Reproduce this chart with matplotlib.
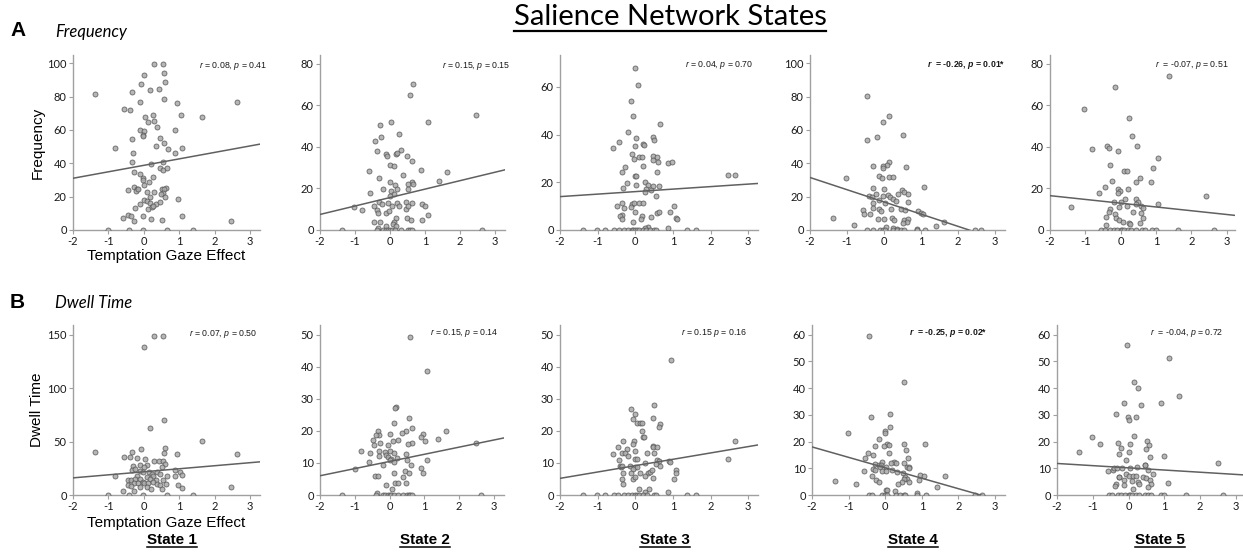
import matplotlib
matplotlib.use("Agg")
import matplotlib.pyplot as plt
from matplotlib.lines import Line2D

plt.rcParams['axes.unicode_minus'] = False
plt.rcParams['mathtext.fontset'] = 'custom'
plt.rcParams['mathtext.rm'] = 'Liberation Sans'
plt.rcParams['mathtext.it'] = 'Liberation Sans:italic'
plt.rcParams['mathtext.bf'] = 'Liberation Sans:bold'
try:
    plt.rcParams['mathtext.bfit'] = 'Liberation Sans:bold:italic'
except Exception:
    pass

# ---------------- data (x = Temptation Gaze Effect, y = measure) ----------------
states = ["State 1", "State 2", "State 3", "State 4", "State 5"]
row_titles = ["Frequency", "Dwell Time"]
row_letters = ["A", "B"]
main_title = "Salience Network States"

a1_pts = [(-1.37,81.6),(0.30,99.8),(0.54,99.8),(0.58,94.4),(0.01,93),(0.60,89),(-0.07,87.6),(0.18,83.8),
          (-0.34,83),(0.44,84.4),(0.58,78.8),(-0.12,76.8),(0.93,76),(2.64,76.8),(-0.55,72.8),(-0.40,72),
          (0.03,68),(0.27,68.8),(1.05,68.8),(1.63,68),(0.30,65.2),(0.12,64.6),(0.36,62),(-0.10,59.8),
          (0.01,59.6),(0.89,60),(-0.01,57),(-0.03,56.4),(-0.33,54.6),(0.46,55.4),(0.56,52.4),(0.35,50.4),
          (-0.81,49),(0.67,48.4),(1.08,49),(0.89,46.4),(-0.32,46.4),(-0.34,41),(0.20,39.6),(0.53,40.8),
          (-0.29,35),(0.46,37),(0.54,36),(0.65,37.4),(-0.10,33.6),(-0.03,31),(-0.01,30),(0.25,32),
          (0.14,28.8),(-0.29,26),(0.01,27),(-0.19,24.4),(-0.46,24),(-0.21,23.4),(-0.17,24.4),(0.09,22.6),
          (0.28,22.6),(0.51,24.6),(0.62,25.4),(0.58,24.6),(0.54,22.4),(0.18,20),(0.49,21.4),(0.60,19.6),
          (0.97,18.6),(0.01,18),(0.09,17.2),(-0.10,15.6),(0.16,16),(0.33,15.8),(0.46,16.6),(-0.25,13.4),
          (0.13,12.4),(0.22,13.8),(0.26,14.6),(-0.44,9.2),(-0.36,8.4),(-0.59,7.2),(-0.01,8.4),(1.08,8.6),
          (-0.27,5.4),(0.20,6.6),(0.50,5.8),(2.47,5.2),
          (-1.01,0),(-0.43,0),(-0.01,0),(0.65,0),(1.40,0)]

a2_pts = [(0.65,70.2),(0.58,64.8),(2.46,55.4),(0.02,52.2),(1.09,52.2),(-0.29,50.6),(0.27,46.1),(-0.27,44.6),
          (-0.43,42.6),(-0.36,37.9),(0.33,38.6),(0.17,36.6),(0.19,37),(-0.11,36.5),(-0.08,35.7),(0.48,35.7),
          (0.62,33.3),(0.01,31.2),(0.13,30.6),(0.37,26.4),(-0.59,28.2),(0.88,29),(1.62,27.8),(-0.30,25.1),
          (1.39,23.7),(0.63,22.9),(0.51,22.2),(0.65,22.2),(0.0,22.9),(0.15,21.6),(-0.19,19.7),(0.04,18.7),
          (0.20,19.7),(0.51,19.7),(-0.57,17.8),(0.12,17.3),(0.0,16.2),(-0.46,11.7),(-0.30,13.3),(-0.22,12.6),
          (-0.05,13),(0.19,13),(0.45,13.3),(0.62,13),(0.93,12.6),(1.00,11.7),(-0.36,9.8),(-0.33,8.2),
          (-0.10,8.2),(-0.03,9),(0.05,11.7),(0.27,11.4),(0.46,10.2),(0.52,11.4),(-0.81,9.4),(-1.03,11),
          (1.09,7.2),(0.17,5.6),(0.48,5.6),(0.59,4.6),(0.92,4.6),(-0.45,3.8),(-0.29,3.8),(0.12,4),
          (0.10,2.9),(-0.11,2.1),(0.17,1.8),(-0.33,1),
          (-1.38,0),(-0.38,0),(-0.19,0),(-0.10,0),(-0.05,0),(0.0,0),(0.05,0),(0.15,0),(0.33,0),
          (0.52,0),(0.57,0),(0.62,0),(2.64,0)]

a3_pts = [(-0.01,68.1),(0.06,60.7),(-0.12,54),(-0.05,48),(0.65,44.6),(-0.19,41.3),(-0.43,37.1),(0.21,36.2),
          (0.23,35.7),(0.01,38.5),(0.48,39.2),(0.51,37.9),(-0.59,34.5),(0.0,35.1),(-0.09,31.7),(-0.03,29.7),
          (0.09,30.6),(0.18,30.6),(0.48,30.9),(0.58,30.6),(0.61,28.4),(0.88,28.1),(0.97,28.5),(0.46,29.2),
          (0.21,27),(-0.27,26.4),(-0.35,24.2),(0.59,24.2),(0.0,22.5),(0.02,22.5),(2.47,22.9),(2.65,22.9),
          (-0.23,19.7),(0.01,18.9),(0.26,20.3),(0.35,18.9),(0.48,18.3),(0.64,18.3),(-0.32,17.8),(0.28,17.2),
          (0.27,15.8),(0.43,16.6),(0.55,14.1),(-0.48,10.2),(-0.34,11.3),(-0.30,9.4),(-0.10,10.8),(-0.12,9.7),
          (-0.04,11.3),(0.11,11.3),(0.21,11.3),(1.03,10.2),(-0.36,6.3),(-0.41,5.7),(-0.34,4.6),(0.0,7.4),
          (0.19,6),(0.14,4.6),(0.43,5.5),(0.57,7.1),(0.64,7.4),(0.92,7.4),(1.08,5),(1.10,4.6),
          (-0.07,3.2),(0.33,1.3),(0.27,1),(0.88,0.8),
          (-1.38,0),(-1.03,0),(-0.81,0),(-0.56,0),(-0.43,0),(-0.30,0),(-0.19,0),(-0.10,0),(-0.05,0),
          (0.0,0),(0.05,0),(0.10,0),(0.20,0),(0.28,0),(0.40,0),(0.50,0),(0.56,0),(1.38,0),(1.62,0)]

a4_pts = [(-0.45,80.2),(0.13,68.2),(-0.02,64.8),(-0.20,56),(-0.47,54.2),(0.52,56.8),(0.13,40.6),(0.07,39),
          (-0.02,38.2),(-0.04,37),(0.59,38),(-0.29,38.6),(-0.14,32.2),(-0.06,31.2),(0.14,32),(0.23,32),
          (-1.03,31.2),(1.08,25.8),(-0.29,25.2),(0.0,24.6),(0.48,24.2),(0.54,22.6),(-0.22,21.6),(-0.41,20.2),
          (-0.33,19.6),(-0.02,20.6),(0.12,21.2),(0.16,19.6),(0.25,18.8),(0.32,17.4),(0.37,21.8),(0.66,21.8),
          (0.65,16.8),(-0.13,17.8),(-0.31,16.2),(0.03,16.2),(-0.56,12.2),(-0.54,9.6),(-0.29,13.2),(-0.13,12.8),
          (-0.08,11.6),(0.18,12.8),(0.45,12.8),(0.58,12.2),(0.92,11.2),(0.99,10.2),(1.05,9.6),(-0.38,9.4),
          (-0.15,6.8),(0.01,6.8),(0.21,7.2),(0.27,6.2),(0.54,6.2),(0.66,6.8),(0.61,4.8),(0.50,4.2),
          (1.62,4.6),(-1.37,7.4),(-0.80,2.8),(1.41,2.2),(0.05,1.6),(0.23,1.2),(0.34,0.8),(0.88,0.8),
          (-0.45,0),(-0.29,0),(-0.11,0),(-0.02,0),(0.04,0),(0.25,0),(0.35,0),(0.45,0),(0.55,0),
          (0.88,0),(1.10,0),(2.46,0),(2.63,0)]

a5_pts = [(1.37,74.2),(-0.16,68.9),(-1.03,58),(0.24,54),(0.32,45.4),(0.47,40.5),(-0.38,40.5),(-0.32,39.3),
          (-0.81,38.8),(-0.08,38.1),(1.06,34.6),(-0.30,31.3),(0.93,30),(0.11,28.5),(0.19,28.5),(0.55,25.2),
          (-0.23,23.7),(0.45,23.1),(0.85,23.1),(-0.44,20.5),(-0.06,19.6),(0.20,19.6),(-0.02,18.8),(-0.08,17.6),
          (-0.60,17.6),(2.43,16.5),(0.12,14.9),(0.45,14.9),(0.50,13.6),(-0.18,13.6),(0.02,13.3),(1.06,12.3),
          (0.45,12.5),(0.57,11.7),(0.62,10.7),(-1.40,11.1),(-0.30,10.1),(-0.05,11.2),(0.19,11.7),(0.36,8.8),
          (0.59,8.3),(0.64,5.6),(-0.33,8.5),(-0.42,6.4),(-0.17,7.5),(-0.14,5.6),(-0.04,4.8),(0.06,4),
          (0.24,3.5),(0.26,2.7),(0.55,3.2),(-0.42,2.2),
          (-0.55,0),(-0.45,0),(-0.30,0),(-0.20,0),(-0.10,0),(0.0,0),(0.05,0),(0.10,0),(0.20,0),(0.30,0),
          (0.45,0),(0.60,0),(0.68,0),(0.90,0),(1.00,0),(1.62,0),(2.64,0)]

b1_pts = [(0.30,149),(0.54,149),(0.01,138.4),(0.58,70.3),(0.18,62.2),(1.63,50.6),(-1.37,40.6),(2.64,38.4),
          (0.93,38.1),(0.60,44),(0.58,39),(-0.07,43.1),(-0.34,40.6),(-0.55,35.9),(-0.40,35.9),(-0.19,34.4),
          (0.03,33.8),(0.30,32.2),(0.44,31.6),(0.54,32.2),(0.60,29),(-0.10,28.1),(-0.32,27.2),(0.08,28.1),
          (0.01,26.6),(0.51,26.6),(0.89,23.4),(-0.34,23.4),(-0.24,24.1),(-0.10,22.8),(-0.01,21.9),(0.14,21.9),
          (0.37,21.9),(1.03,21.3),(1.08,18.8),(-0.81,18.1),(0.23,19.7),(0.27,17.8),(0.46,19.7),(0.65,18.1),
          (0.89,18.1),(-0.19,17.8),(0.09,17.2),(-0.44,14.1),(-0.35,14.1),(-0.25,15.3),(-0.10,14.7),(0.16,14.7),
          (0.33,14.1),(0.54,14.1),(-0.27,10.9),(-0.17,11.6),(-0.03,12.5),(0.01,10.9),(0.12,10.9),(0.27,12.2),
          (0.37,10.3),(0.46,9.4),(0.62,10),(-0.46,9.1),(-0.36,8.4),(-0.10,7.2),(0.09,7.2),(0.20,5.9),
          (0.50,5.9),(0.97,9.4),(1.08,6.3),(-0.59,3.8),(-0.27,3.8),(2.47,7.8),
          (-1.01,0),(-0.43,0),(-0.01,0),(0.65,0),(1.40,0)]

b2_pts = [(0.60,49.2),(1.09,38.6),(0.19,27.3),(0.17,27),(0.57,24),(0.13,22.6),(0.65,20.8),(1.62,20),
          (-0.32,20),(0.48,20),(0.35,19.2),(0.0,19),(0.97,19),(-0.29,18.7),(-0.38,18.7),(0.91,18.2),
          (-0.48,17.2),(0.10,16.9),(0.24,17.2),(1.39,17.5),(1.03,16.9),(-0.27,16.3),(0.65,16.3),(2.48,16.3),
          (0.52,15.9),(-0.05,15.5),(-0.46,15.7),(-0.82,13.8),(-0.30,13.8),(0.0,13.8),(-0.13,13.4),(-0.10,12.6),
          (0.14,13),(-0.57,13),(-0.30,12.3),(0.48,12.8),(-0.05,12),(0.05,11.3),(0.21,11.4),(0.0,10.9),
          (0.51,10.9),(1.09,10.9),(-0.59,10.4),(0.14,10.2),(-0.19,9.5),(0.61,9.3),(0.90,8.5),(-1.00,8),
          (0.44,7.6),(0.55,7),(0.95,7),(0.14,7),(-0.43,5.9),(-0.33,5.9),(0.38,5.5),(0.17,3.8),
          (0.25,3.8),(0.48,3.8),(-0.11,3),(0.08,2),(-0.36,0.7),
          (-1.38,0),(-0.38,0),(-0.20,0),(-0.12,0),(-0.05,0),(0.0,0),(0.05,0),(0.14,0),(0.24,0),
          (0.38,0),(0.50,0),(0.55,0),(0.60,0),(0.65,0),(2.64,0)]

b3_pts = [(0.96,42.1),(0.50,28.1),(-0.12,26.7),(-0.01,25.3),(0.46,24),(-0.05,23.7),(0.05,22.6),(0.12,22.6),
          (0.18,22.6),(0.65,22.1),(0.62,21.1),(0.19,20.1),(0.21,18),(0.23,18.2),(-0.32,16.9),(-0.03,16.9),
          (2.65,16.9),(-0.07,15.9),(-0.47,15.1),(0.46,15.4),(0.48,14.9),(0.58,15.1),(-0.23,14.4),(-0.01,13.8),
          (-0.58,12.8),(-0.34,13),(-0.27,13.2),(-0.19,12.2),(0.30,13),(0.51,13),(2.47,11.3),(-0.44,10.9),
          (-0.01,11.3),(0.04,11.1),(0.58,10.9),(0.64,10.7),(0.90,10.6),(0.92,10.2),(-0.41,9),(-0.37,8.8),
          (-0.34,9),(-0.14,9),(-0.01,8.8),(0.05,8.8),(0.26,9.9),(0.55,9.6),(0.65,9),(-0.07,8.1),
          (-0.32,7),(-0.12,7),(0.12,7),(0.34,6.8),(0.39,7.2),(0.44,7.8),(1.08,7.8),(1.08,7),
          (0.26,5.9),(0.48,5.3),(-0.05,5),(-0.01,5.5),(1.03,5),(-0.36,4.9),(-0.32,3.4),(0.37,2),
          (0.11,2),(0.25,1),(0.87,0.9),
          (-1.38,0),(-1.03,0),(-0.81,0),(-0.56,0),(-0.45,0),(-0.30,0),(-0.20,0),(-0.10,0),(0.0,0),
          (0.05,0),(0.10,0),(0.20,0),(0.30,0),(0.50,0),(0.55,0),(1.38,0),(1.62,0)]

b4_pts = [(-0.45,59.5),(0.52,42.1),(0.13,30.2),(-0.39,29.1),(0.14,25.3),(-0.02,23.8),(0.0,23.1),(-1.02,23.1),
          (-0.18,20.8),(0.05,19.2),(0.10,18.7),(-0.28,18.5),(-0.03,18.5),(0.51,19.1),(1.08,19.1),(0.57,16.8),
          (0.10,15.6),(-0.46,15.8),(-0.33,15),(0.62,13.8),(-0.55,13.8),(0.50,11.8),(0.25,12.3),(0.30,11.8),
          (0.17,11.8),(-0.10,12.2),(-0.27,11.6),(-0.18,11.1),(-0.12,11.1),(0.02,10.6),(-0.14,10.3),(0.59,10.6),
          (0.65,10.6),(0.66,10),(-0.34,9.9),(-0.27,9.2),(-0.08,8.9),(0.01,9.1),(0.18,9.4),(0.32,8.6),
          (0.48,8.4),(-0.59,9),(0.94,7.4),(1.05,7.2),(1.62,7.1),(0.55,6.9),(0.59,6.1),(0.52,5.9),
          (0.65,5),(0.46,5),(0.92,5.6),(-0.36,7.1),(-0.25,5.6),(-0.16,4.9),(0.35,4),(-1.36,5.4),
          (-0.80,4),(1.41,2.9),(0.26,1.6),(0.01,1.9),(0.06,1.9),(0.88,0.7),
          (-0.45,0),(-0.36,0),(-0.10,0),(0.0,0),(0.05,0),(0.30,0),(0.40,0),(0.50,0),(0.55,0),
          (0.88,0),(1.10,0),(2.46,0),(2.63,0)]

b5_pts = [(-0.04,56.3),(1.12,51.4),(0.15,42.3),(0.26,40.2),(1.42,36.9),(-0.13,34.3),(0.91,34.3),(0.35,33.7),
          (-0.36,30.2),(0.22,29.1),(-0.02,29.1),(0.01,28.1),(0.14,22.2),(-1.02,21.7),(-0.81,19.2),(0.52,20.2),
          (0.57,18.6),(-0.30,19.4),(0.03,19.2),(-0.22,17.6),(0.50,17.1),(-1.38,16.1),(0.0,16.1),(-0.27,15.5),
          (0.98,14.7),(0.60,14.2),(-0.06,13.2),(2.51,12.1),(0.47,11.4),(0.47,11.1),(0.23,10.5),(-0.58,8.8),
          (-0.43,9.5),(-0.40,10.1),(-0.32,10.1),(-0.19,10.1),(0.03,10.1),(0.55,9.5),(0.68,8),(-0.06,8),
          (0.01,7.2),(0.13,7.2),(0.20,7.2),(-0.28,6.8),(-0.26,6.6),(0.41,6.8),(0.48,6.2),(0.59,5.6),
          (-0.13,5.6),(0.09,5.1),(0.26,4.8),(0.29,4.3),(0.62,4.1),(1.09,4.6),(-0.34,4.1),(-0.38,3.5),
          (-0.12,3.7),(0.54,3.1),(0.13,2.1),
          (-0.55,0),(-0.45,0),(-0.30,0),(-0.20,0),(-0.10,0),(0.0,0),(0.05,0),(0.10,0),(0.20,0),(0.30,0),
          (0.45,0),(0.55,0),(0.62,0),(0.90,0),(1.00,0),(1.62,0),(2.64,0)]

# fitted regression lines: intercept, slope
fit_intercepts_a = [38.8, 15.6, 16.1, 16.85, 12.9]
fit_slopes_a = [3.88, 4.06, 1.05, -7.33, -1.81]
fit_intercepts_b = [21.7, 10.46, 9.15, 10.17, 10.16]
fit_slopes_b = [2.84, 2.23, 1.98, -3.91, -0.82]

stats_a = [("0.08", "0.41", False), ("0.15", "0.15", False), ("0.04", "0.70", False),
           ("-0.26", "0.01*", True), ("-0.07", "0.51", False)]
stats_b = [("0.07", "0.50", False), ("0.15", "0.14", False), ("0.15", "0.16", False),
           ("-0.25", "0.02*", True), ("-0.04", "0.72", False)]

yticks_a = [[0, 20, 40, 60, 80, 100], [0, 20, 40, 60, 80], [0, 20, 40, 60], [0, 20, 40, 60, 80, 100], [0, 20, 40, 60, 80]]
yticks_b = [[0, 50, 100, 150], [0, 10, 20, 30, 40, 50], [0, 10, 20, 30, 40, 50], [0, 10, 20, 30, 40, 50, 60], [0, 10, 20, 30, 40, 50, 60]]
xticks = [-2, -1, 0, 1, 2, 3]

# ---------------- layout (pixels) ----------------
W, H = 1243, 555
fig = plt.figure(figsize=(W / 100, H / 100), dpi=100)
def fx(p): return p / W
def fy(p): return 1 - p / H

boxes_a = [(73, 260), (320, 505), (560, 758), (810, 1005), (1050, 1235)]
boxes_b = [(73, 260), (320, 504), (560, 758), (812, 1005), (1057, 1243)]
ylims_a = [105, 84.2, 73.4, 105, 84.2]
ylims_b = [159, 53, 53, 63.6, 63.6]
xr_a = [3.28, 3.29, 3.26, 3.27, 3.24]
xr_b = [3.28, 3.29, 3.26, 3.27, 3.2]
row_tb = [(55, 230), (325, 495)]
stat_pos_a = [(267, 66), (510, 66), (753, 65), (1005, 65), (1229, 65)]
stat_pos_b = [(257, 334), (498, 333), (747, 333), (987, 333), (1223, 333)]
state_cx = [172, 425, 665, 913, 1160]

tick_font = 'Lato'
spine_col = '#a0a0a0'

rows = [
    ([a1_pts, a2_pts, a3_pts, a4_pts, a5_pts], boxes_a, ylims_a, xr_a, yticks_a,
     fit_intercepts_a, fit_slopes_a, stats_a, stat_pos_a),
    ([b1_pts, b2_pts, b3_pts, b4_pts, b5_pts], boxes_b, ylims_b, xr_b, yticks_b,
     fit_intercepts_b, fit_slopes_b, stats_b, stat_pos_b),
]

for r, (pts_list, boxes, ylims, xrs, yt, b0s, b1s, stats, spos) in enumerate(rows):
    top, bot = row_tb[r]
    for i in range(5):
        l, rr = boxes[i]
        ax = fig.add_axes([fx(l), fy(bot), (rr - l) / W, (bot - top) / H])
        xs = [p[0] for p in pts_list[i]]
        ys = [p[1] for p in pts_list[i]]
        ax.scatter(xs, ys, s=13, facecolor='#aaaaaa', edgecolor='#555555', linewidths=0.6,
                   alpha=0.85, zorder=3)
        x0, x1 = -2, xrs[i]
        ax.plot([x0, x1], [b0s[i] + b1s[i] * x0, b0s[i] + b1s[i] * x1], color='#606060', lw=1.1, zorder=4)
        ax.set_xlim(x0, x1)
        ax.set_ylim(0, ylims[i])
        ax.set_xticks(xticks)
        ax.set_yticks(yt[i])
        for s in ['top', 'right']:
            ax.spines[s].set_visible(False)
        for s in ['left', 'bottom']:
            ax.spines[s].set_color(spine_col)
            ax.spines[s].set_linewidth(1.0)
        ax.tick_params(length=3, width=0.8, color=spine_col, pad=1.5, labelsize=8, labelcolor='#1a1a1a')
        for lab in ax.get_xticklabels() + ax.get_yticklabels():
            lab.set_fontfamily(tick_font)
        rv, pv, bold = stats[i]
        if bold:
            txt = r'$\mathbfit{r}$  = ' + rv + r', $\mathbfit{p}$ = ' + pv
        else:
            sep = ' ' if (r == 1 and i == 2) else ', '
            sp = '  ' if rv.startswith('-') else ' '
            txt = r'$\mathit{r}$' + sp + '= ' + rv + sep + r'$\mathit{p}$ = ' + pv
        fig.text(fx(spos[i][0]), fy(spos[i][1]), txt, ha='right', va='center', fontsize=6.3,
                 family='Liberation Sans', fontweight='bold' if bold else 'normal', color='#1a1a1a')
        if i == 0:
            ax.set_ylabel(row_titles[r], family='Liberation Sans', fontsize=11, labelpad=2)
            ax.set_xlabel('Temptation Gaze Effect', family='Liberation Sans', fontsize=11,
                          labelpad=1 if r == 0 else 3)

# row letters and titles
fig.text(fx(10), fy(31), row_letters[0], family='Liberation Sans', fontweight='bold', fontsize=15, va='center')
fig.text(fx(55), fy(32), row_titles[0], family='Lato', style='italic', fontsize=12, va='center')
fig.text(fx(10), fy(302), row_letters[1], family='Liberation Sans', fontweight='bold', fontsize=15, va='center')
fig.text(fx(55), fy(303), row_titles[1], family='Lato', style='italic', fontsize=12, va='center')

title = fig.text(fx(670), fy(17), main_title, family='Lato', fontsize=21, ha='center', va='center')
state_texts = []
for i, s in enumerate(states):
    t = fig.text(fx(state_cx[i]), fy(540), s, family='Liberation Sans', fontweight='bold', fontsize=11,
                 ha='center', va='center')
    state_texts.append(t)

fig.canvas.draw()
renderer = fig.canvas.get_renderer()
def underline(t, offset, lw):
    bb = t.get_window_extent(renderer)
    y = bb.y0 - offset
    fig.add_artist(Line2D([bb.x0 / W, bb.x1 / W], [y / H, y / H], color='black', lw=lw,
                          transform=fig.transFigure))
underline(title, 1, 1.6)
for t in state_texts:
    underline(t, 0, 1.1)

fig.savefig('out.png', dpi=100)
